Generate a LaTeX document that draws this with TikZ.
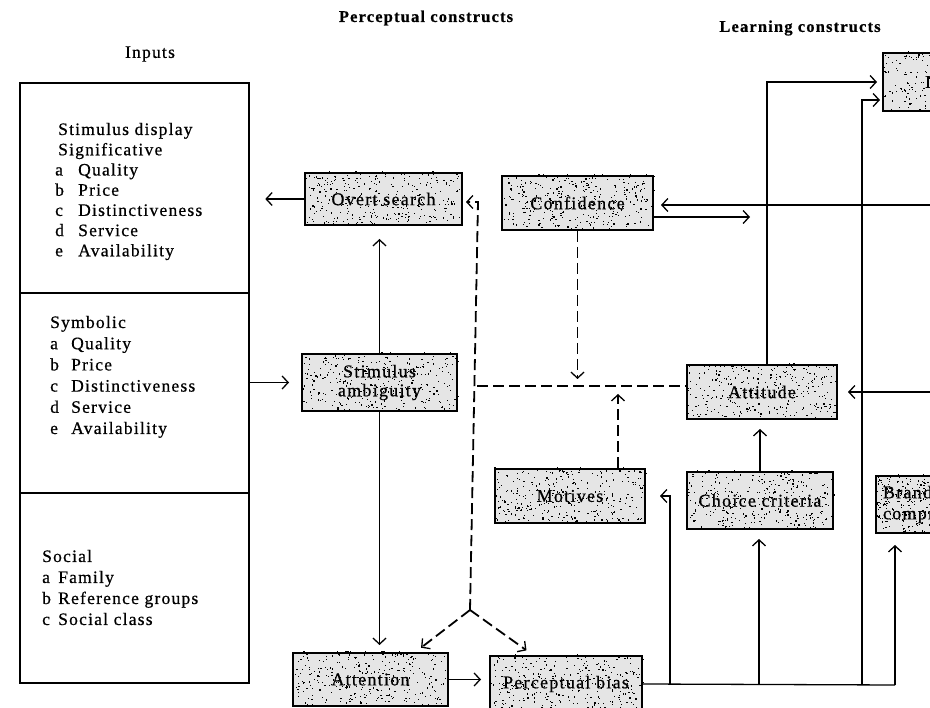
\documentclass[tikz,border=0pt]{standalone}
\usepackage{fontspec}
\setmainfont{Liberation Serif}[LetterSpace=7,FakeBold=0.6]
\usetikzlibrary{arrows.meta,calc}
\pgfdeclarelayer{background}
\pgfdeclarelayer{speck}
\pgfsetlayers{background,speck,main}
\definecolor{boxgray}{gray}{0.9}
\newdimen\spAx \newdimen\spAy \newdimen\spBx \newdimen\spBy
% random stipple over the area of a named box
\newcommand\boxspeckle[2]{%
  \pgfextractx{\spAx}{\pgfpointanchor{#1}{south west}}%
  \pgfextracty{\spAy}{\pgfpointanchor{#1}{south west}}%
  \pgfextractx{\spBx}{\pgfpointanchor{#1}{north east}}%
  \pgfextracty{\spBy}{\pgfpointanchor{#1}{north east}}%
  \foreach \k in {1,...,#2}{%
    \pgfmathsetmacro\spx{\spAx+rnd*(\spBx-\spAx)}%
    \pgfmathsetmacro\spy{\spAy+rnd*(\spBy-\spAy)}%
    \fill (\spx pt,\spy pt) rectangle ++(1.2pt,1.2pt);}}
\begin{document}
\begin{tikzpicture}[x=1pt,y=-1pt,
  every node/.style={font=\fontsize{17.5}{20}\selectfont, inner sep=0pt},
  title/.style={font=\fontsize{16.5}{20}\selectfont\bfseries},
  conbox/.style={draw, line width=2pt, align=center, font=\fontsize{18}{20}\selectfont},
  wire/.style={line width=1.3pt},
  tip/.style={-{Straight Barb[length=6pt,width=13pt,line width=1.3pt]}},
  dashline/.style={line width=1.8pt, dash pattern=on 11pt off 5pt},
  line/.style={anchor=base west}]
\useasboundingbox (0,0) rectangle (930,708);
\clip (0,0) rectangle (930,708);
\pgfmathsetseed{7}

% headings
\node[title] (ptitle) at (426,18) {Perceptual constructs};
\node[title] (ltitle) at (800,28) {Learning constructs};
\node (intitle) at (150,54) {Inputs};

% input column
\node[draw, line width=2.3pt, minimum width=229pt, minimum height=600pt, anchor=north west] (inputs) at (19,82) {};
\coordinate (div1) at (0,293);
\coordinate (div2) at (0,493);
\draw[line width=2pt] (div1 -| inputs.west) -- (div1 -| inputs.east);
\draw[line width=2pt] (div2 -| inputs.west) -- (div2 -| inputs.east);

\node[line] (sig0) at (58,135) {Stimulus display};
\node[line] (sig1) at (58,155.3) {Significative};
\foreach \l/\w [count=\i] in {a/Quality,b/Price,c/Distinctiveness,d/Service,e/Availability}
  \node[line] (sig\l) at (55,{155.3+20.2*\i}) {\makebox[23pt][l]{\l}\w};
\node[line] (sym0) at (50,328) {Symbolic};
\foreach \l/\w [count=\i] in {a/Quality,b/Price,c/Distinctiveness,d/Service,e/Availability}
  \node[line] (sym\l) at (50,{328+21.2*\i}) {\makebox[21pt][l]{\l}\w};
\node[line] (soc0) at (42,562) {Social};
\foreach \l/\w [count=\i] in {a/Family,b/Reference groups,c/Social class}
  \node[line] (soc\l) at (42,{562+21*\i}) {\makebox[16pt][l]{\l}\w};

% construct boxes
\node[conbox, minimum width=157pt, minimum height=52pt] (overt) at (383.5,199) {Overt search};
\node[conbox, minimum width=151pt, minimum height=54pt] (conf) at (577.5,203) {Confidence};
\node[conbox, minimum width=155pt, minimum height=57pt] (stim) at (379.5,382.5) {Stimulus\\[-1pt]ambiguity};
\node[conbox, minimum width=150pt, minimum height=54pt] (attitude) at (762,392) {Attitude};
\node[conbox, minimum width=150pt, minimum height=54pt] (motives) at (570,496) {Motives};
\node[conbox, minimum width=146pt, minimum height=57pt] (choice) at (760,500.5) {Choice criteria};
\node[conbox, minimum width=155pt, minimum height=53pt] (att) at (370.5,679.5) {Attention};
\node[conbox, minimum width=152pt, minimum height=56pt] (pb) at (566,684) {Perceptual bias};
\node[conbox, anchor=north west, minimum width=80pt, minimum height=57pt, align=left, text width=70pt, inner xsep=7pt] (brand) at (875,475) {Brand\\[1pt]comprehension};
\node[conbox, anchor=north west, minimum width=80pt, minimum height=58pt, align=left, text width=70pt, inner xsep=42pt] (lbox) at (882,52) {Intention};

\begin{pgfonlayer}{background}
  \foreach \n in {overt,conf,stim,attitude,motives,choice,att,pb,brand,lbox}
    \fill[boxgray] (\n.south west) rectangle (\n.north east);
\end{pgfonlayer}
\begin{pgfonlayer}{speck}
  \foreach \n in {overt,conf,stim,attitude,motives,choice,att,pb,brand,lbox}
    \boxspeckle{\n}{330};
\end{pgfonlayer}

% solid connectors of the perceptual part
\draw[wire,tip] (overt.west) -- ([xshift=15pt]overt.west -| inputs.east);
\draw[wire,tip,shorten >=12pt] (inputs.east |- stim.west) -- (stim.west);
\draw[wire,tip,shorten >=13pt] (stim.north) -- (stim.north |- overt.south);
\draw[wire,tip,shorten >=7pt] (stim.south) -- (stim.south |- att.north);
\draw[wire,tip,shorten >=8pt] (att.east) -- (att.east -| pb.west);

% dashed feedback paths
\coordinate (split) at (470,610);
\coordinate (dtop) at (478,202);
\coordinate (dknee) at (477,386);
\draw[dashline,tip] (split) -- (dtop) -- ([xshift=3pt]dtop -| overt.east);
\draw[dashline,tip,shorten >=7pt] (split) -- ([xshift=45pt]att.north);
\draw[dashline,tip,shorten >=8pt] (split) -- ([xshift=-33pt]pb.north);
\draw[dashline] (dknee) -- (dknee -| attitude.west);
\draw[dashline,tip,shorten >=7pt] (conf.south) -- (conf.south |- dknee);
\draw[dashline,tip,shorten >=8pt] ([xshift=48pt]motives.north) -- ([xshift=48pt]motives.north |- dknee);

% output line of perceptual bias and its branches
\coordinate (busA) at (670,685);
\coordinate (busB) at (759,685);
\coordinate (busC) at (862,685);
\coordinate (busD) at (895,685);
\coordinate (ltwo) at (862,100);
\coordinate (lone) at (767,82);
\draw[wire] (pb.east) -- (busD);
\draw[wire,tip,shorten >=14pt] (busA) |- (motives.east);
\draw[wire,tip,shorten >=9pt] (busB) -- (busB |- choice.south);
\draw[wire,tip,shorten >=11pt] (busD) -- (busD |- brand.south);
\draw[wire,tip,shorten >=2pt] (busC) |- (ltwo -| lbox.west);

% learning connectors
\draw[wire,tip,shorten >=9pt] (choice.north) -- (choice.north |- attitude.south);
\draw[wire,tip,shorten >=5pt] (attitude.north -| lone) |- (lone -| lbox.west);
\coordinate (redgeA) at (930,392);
\coordinate (redgeC) at (930,205);
\coordinate (confout) at (750,217);
\draw[wire,tip,shorten >=10pt] (redgeA) -- (attitude.east);
\draw[wire,tip,shorten >=7pt] (redgeC) -- (redgeC -| conf.east);
\draw[wire,tip] (conf.east |- confout) -- (confout);
\end{tikzpicture}
\end{document}
